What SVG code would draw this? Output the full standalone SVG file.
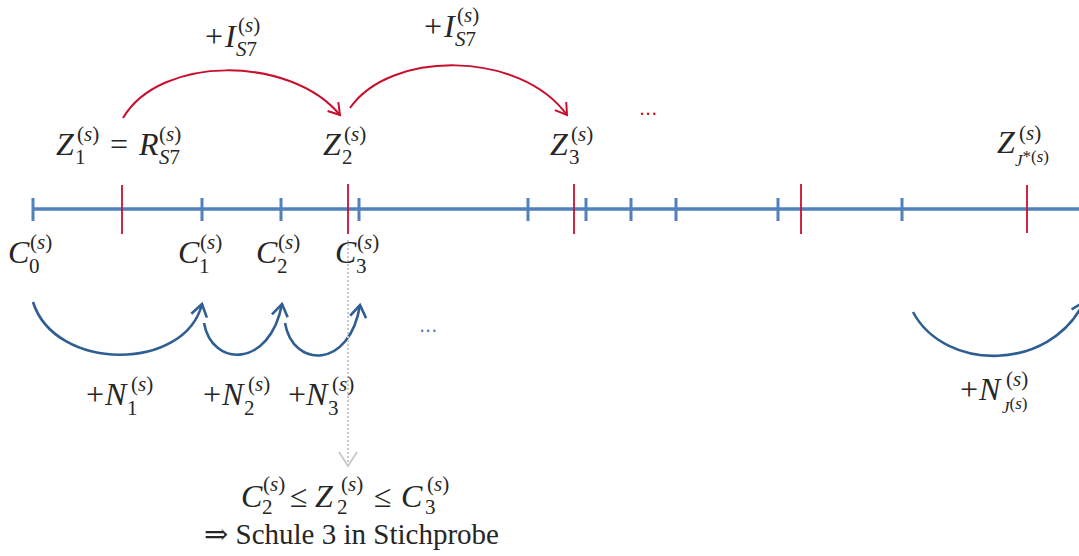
<svg xmlns="http://www.w3.org/2000/svg" width="1079" height="556" viewBox="0 0 1079 556">
<style>
.t{font-family:"Liberation Serif","DejaVu Serif",serif;font-size:32px;fill:#262626}
.p{font-family:"Liberation Serif","DejaVu Serif",serif;font-size:29px;fill:#262626}
.i{font-style:italic}
.s{font-size:21px}
.ss{font-size:17px}
.tl{stroke:#4F81BD;stroke-width:3.5;fill:none}
.bt{stroke:#4F81BD;stroke-width:3;fill:none}
.rt{stroke:#C8102E;stroke-width:1.8;fill:none}
.ra{stroke:#C8102E;stroke-width:2;fill:none}
.ba{stroke:#2F5E92;stroke-width:2.6;fill:none}
</style>
<defs>
<marker id="arR" markerUnits="userSpaceOnUse" markerWidth="30" markerHeight="30" refX="0" refY="0" viewBox="-15 -15 30 30" orient="auto">
<path d="M-11,-7 L0,0 L-11,7" fill="none" stroke="#C8102E" stroke-width="2"/>
</marker>
<marker id="arB" markerUnits="userSpaceOnUse" markerWidth="30" markerHeight="30" refX="0" refY="0" viewBox="-15 -15 30 30" orient="auto">
<path d="M-12,-8 L0,0 L-12,8" fill="none" stroke="#2F5E92" stroke-width="2.6"/>
</marker>
<marker id="arG" markerUnits="userSpaceOnUse" markerWidth="30" markerHeight="30" refX="0" refY="0" viewBox="-15 -15 30 30" orient="auto">
<path d="M-14,-9 L0,0 L-14,9" fill="none" stroke="#C8C8C8" stroke-width="1.8"/>
</marker>
</defs>
<rect width="1079" height="556" fill="#ffffff"/>

<g id="timeline">
<line class="tl" x1="33" y1="209" x2="1079" y2="209"/>
<g id="blue-ticks">
<line class="bt" x1="33" y1="198" x2="33" y2="221"/>
<line class="bt" x1="202" y1="198" x2="202" y2="221"/>
<line class="bt" x1="281" y1="198" x2="281" y2="221"/>
<line class="bt" x1="359" y1="198" x2="359" y2="221"/>
<line class="bt" x1="528" y1="198" x2="528" y2="221"/>
<line class="bt" x1="586" y1="198" x2="586" y2="221"/>
<line class="bt" x1="631" y1="198" x2="631" y2="221"/>
<line class="bt" x1="676" y1="198" x2="676" y2="221"/>
<line class="bt" x1="778" y1="198" x2="778" y2="221"/>
<line class="bt" x1="902" y1="198" x2="902" y2="221"/>
</g>
<g id="red-ticks">
<line class="rt" x1="122" y1="185" x2="122" y2="234"/>
<line class="rt" x1="348" y1="184" x2="348" y2="234"/>
<line class="rt" x1="574" y1="184" x2="574" y2="234"/>
<line class="rt" x1="801" y1="184" x2="801" y2="234"/>
<line class="rt" x1="1027" y1="185" x2="1027" y2="233"/>
</g>
</g>

<g id="connectors">
<path class="ra" d="M123,118 C160,55 290,55 340,115" marker-end="url(#arR)"/>
<path class="ra" d="M350,108 C390,50 520,50 567,115" marker-end="url(#arR)"/>
<path class="ba" d="M33,302 C55,372 185,372 202,304" marker-end="url(#arB)"/>
<path class="ba" d="M204,323 C212,368 270,368 282,304" marker-end="url(#arB)"/>
<path class="ba" d="M285,323 C293,369 350,369 360,305" marker-end="url(#arB)"/>
<path class="ba" d="M913,312 C945,372 1050,372 1084,302" marker-end="url(#arB)"/>
<path d="M348,240 L348,466" stroke="#C8C8C8" stroke-width="2" stroke-dasharray="2,2" fill="none" marker-end="url(#arG)"/>
</g>

<g id="dots">
<text x="639" y="115" font-family="Liberation Sans,sans-serif" font-size="22" fill="#C8102E">...</text>
<text x="419" y="332" font-family="Liberation Sans,sans-serif" font-size="22" fill="#4F81BD">...</text>
</g>

<g id="label-I1">
<text class="t"><tspan x="205" y="47">+</tspan><tspan class="i" x="225" y="47">I</tspan><tspan class="s" x="238" y="32">(<tspan class="i">s</tspan>)</tspan><tspan class="s i" x="236" y="56">S</tspan><tspan class="s">7</tspan></text>
</g>
<g id="label-I2">
<text class="t"><tspan x="424" y="37">+</tspan><tspan class="i" x="444" y="37">I</tspan><tspan class="s" x="457" y="22">(<tspan class="i">s</tspan>)</tspan><tspan class="s i" x="455" y="46">S</tspan><tspan class="s">7</tspan></text>
</g>

<g id="label-Z1">
<text class="t"><tspan class="i" x="56" y="155">Z</tspan><tspan class="s" x="77" y="141">(<tspan class="i">s</tspan>)</tspan><tspan class="s" x="75" y="164">1</tspan><tspan x="110" y="155">=</tspan><tspan class="i" x="139" y="155">R</tspan><tspan class="s" x="159" y="141">(<tspan class="i">s</tspan>)</tspan><tspan class="s i" x="159" y="164">S</tspan><tspan class="s">7</tspan></text>
</g>
<g id="label-Z2">
<text class="t"><tspan class="i" x="323" y="155">Z</tspan><tspan class="s" x="344" y="141">(<tspan class="i">s</tspan>)</tspan><tspan class="s" x="342" y="164">2</tspan></text>
</g>
<g id="label-Z3">
<text class="t"><tspan class="i" x="550" y="155">Z</tspan><tspan class="s" x="571" y="141">(<tspan class="i">s</tspan>)</tspan><tspan class="s" x="569" y="164">3</tspan></text>
</g>
<g id="label-ZJ">
<text class="t"><tspan class="i" x="997" y="153">Z</tspan><tspan class="s" x="1019" y="140">(<tspan class="i">s</tspan>)</tspan><tspan class="ss i" x="1015" y="166">J</tspan><tspan class="ss" dy="-4">*(</tspan><tspan class="ss i">s</tspan><tspan class="ss">)</tspan></text>
</g>

<g id="label-C0">
<text class="t"><tspan class="i" x="8" y="263">C</tspan><tspan class="s" x="30" y="249">(<tspan class="i">s</tspan>)</tspan><tspan class="s" x="29" y="273">0</tspan></text>
</g>
<g id="label-C1">
<text class="t"><tspan class="i" x="178" y="263">C</tspan><tspan class="s" x="200" y="249">(<tspan class="i">s</tspan>)</tspan><tspan class="s" x="199" y="273">1</tspan></text>
</g>
<g id="label-C2">
<text class="t"><tspan class="i" x="256" y="263">C</tspan><tspan class="s" x="278" y="249">(<tspan class="i">s</tspan>)</tspan><tspan class="s" x="277" y="273">2</tspan></text>
</g>
<g id="label-C3">
<text class="t"><tspan class="i" x="335" y="263">C</tspan><tspan class="s" x="357" y="249">(<tspan class="i">s</tspan>)</tspan><tspan class="s" x="356" y="273">3</tspan></text>
</g>

<g id="label-N1">
<text class="t"><tspan x="86" y="405">+</tspan><tspan class="i" x="105" y="405">N</tspan><tspan class="s" x="131" y="391">(<tspan class="i">s</tspan>)</tspan><tspan class="s" x="127" y="415">1</tspan></text>
</g>
<g id="label-N2">
<text class="t"><tspan x="203" y="405">+</tspan><tspan class="i" x="222" y="405">N</tspan><tspan class="s" x="248" y="391">(<tspan class="i">s</tspan>)</tspan><tspan class="s" x="244" y="415">2</tspan></text>
</g>
<g id="label-N3">
<text class="t"><tspan x="288" y="405">+</tspan><tspan class="i" x="306" y="405">N</tspan><tspan class="s" x="332" y="391">(<tspan class="i">s</tspan>)</tspan><tspan class="s" x="328" y="415">3</tspan></text>
</g>
<g id="label-NJ">
<text class="t"><tspan x="960" y="400">+</tspan><tspan class="i" x="979" y="400">N</tspan><tspan class="s" x="1006" y="386">(<tspan class="i">s</tspan>)</tspan><tspan class="ss i" x="1002" y="413">J</tspan><tspan class="ss" dy="-4">(</tspan><tspan class="ss i">s</tspan><tspan class="ss">)</tspan></text>
</g>

<g id="label-result">
<text class="t"><tspan class="i" x="241" y="507">C</tspan><tspan class="s" x="263" y="491">(<tspan class="i">s</tspan>)</tspan><tspan class="s" x="262" y="514">2</tspan><tspan x="290" y="507">≤</tspan><tspan class="i" x="315" y="507">Z</tspan><tspan class="s" x="341" y="491">(<tspan class="i">s</tspan>)</tspan><tspan class="s" x="337" y="514">2</tspan><tspan x="374" y="507">≤</tspan><tspan class="i" x="401" y="507">C</tspan><tspan class="s" x="427" y="491">(<tspan class="i">s</tspan>)</tspan><tspan class="s" x="425" y="514">3</tspan></text>
<text class="p" x="204" y="544">⇒ Schule 3 in Stichprobe</text>
</g>
</svg>
